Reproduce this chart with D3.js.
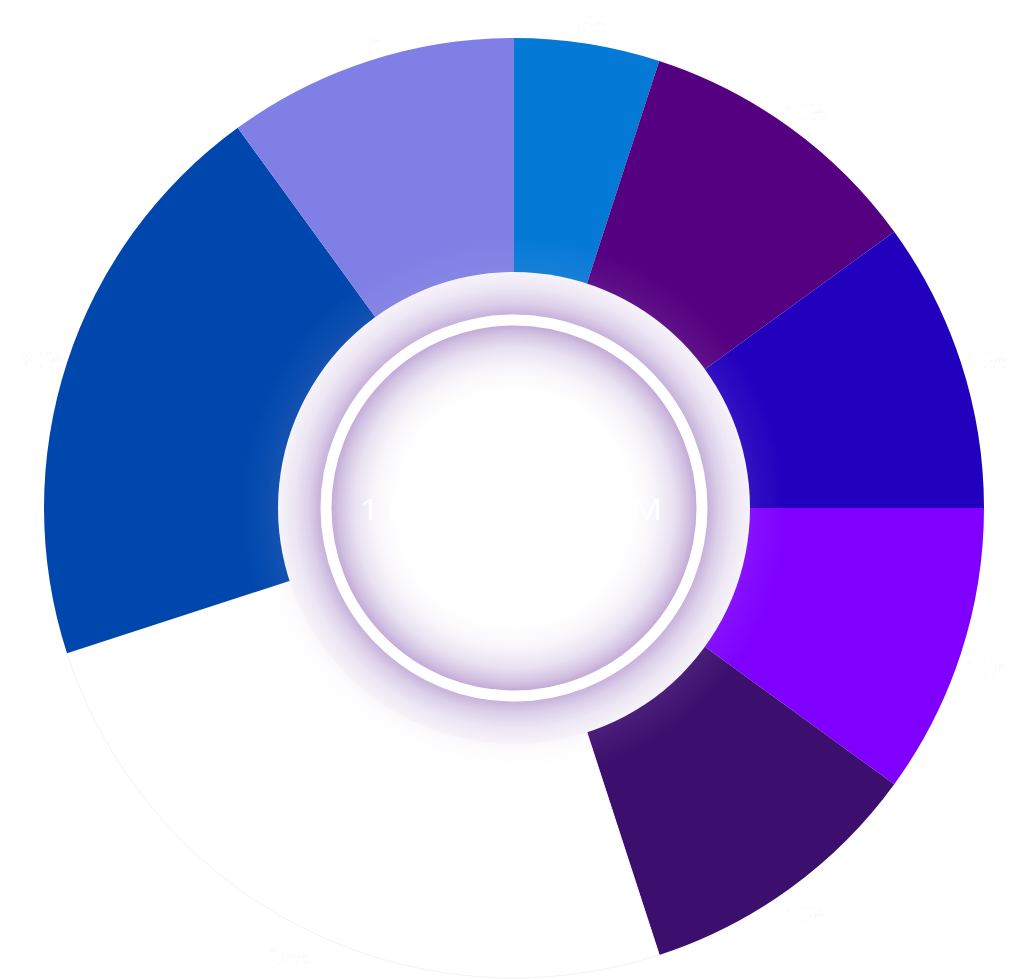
<!DOCTYPE html>
<html>
<head>
<meta charset="utf-8">
<script src="https://cdn.jsdelivr.net/npm/d3@7"></script>
<style>
  html, body { margin: 0; padding: 0; background: #ffffff; }
  svg { display: block; }
</style>
</head>
<body>
<svg id="chart" width="1024" height="979"></svg>
<script>
// ---- data ----
const labels = ["5%", "10%", "10%", "10%", "10%", "25%", "20%", "10%"];
const values = [5, 10, 10, 10, 10, 25, 20, 10];
const colors = ["#0579d6", "#540080", "#2100be", "#7f00ff", "#3c0e6e", "#ffffff", "#0047ad", "#7f7fe5"];
const centerTitle = "Total Supply";
const centerValue = "1 000 000 000 TJRM";

// ---- layout ----
const cx = 514, cy = 508;
const outerR = 470, innerR = 225;
const discR = 236;

const svg = d3.select("#chart");
const defs = svg.append("defs");

// faint glow outside the disc
const glowR = 272;
const glow = defs.append("radialGradient").attr("id", "glow")
  .attr("cx", 0).attr("cy", 0).attr("r", glowR).attr("gradientUnits", "userSpaceOnUse");
glow.append("stop").attr("offset", 234 / glowR).attr("stop-color", "#c2aed8").attr("stop-opacity", 0.11);
glow.append("stop").attr("offset", 248 / glowR).attr("stop-color", "#dcd0ea").attr("stop-opacity", 0.05);
glow.append("stop").attr("offset", 1).attr("stop-color", "#ffffff").attr("stop-opacity", 0);

// disc gradient
const disc = defs.append("radialGradient").attr("id", "disc")
  .attr("cx", 0).attr("cy", 0).attr("r", discR).attr("gradientUnits", "userSpaceOnUse");
[
  [0, "#ffffff"],
  [120 / discR, "#fefefe"],
  [140 / discR, "#f8f6fb"],
  [160 / discR, "#e9e1f1"],
  [175 / discR, "#d2c1e2"],
  [182 / discR, "#c4acd8"],
  [194 / discR, "#c8b3dc"],
  [205 / discR, "#dccfe9"],
  [220 / discR, "#ede6f4"],
  [1, "#f6f3f9"]
].forEach(([o, c]) => disc.append("stop").attr("offset", o).attr("stop-color", c));

const g = svg.append("g").attr("transform", `translate(${cx},${cy})`);

const pie = d3.pie().sort(null).value(d => d.value).startAngle(0).endAngle(2 * Math.PI);
const data = labels.map((l, i) => ({ label: l, value: values[i], color: colors[i] }));
const arcs = pie(data);

const arc = d3.arc().innerRadius(innerR).outerRadius(outerR);

g.selectAll("path.slice")
  .data(arcs)
  .join("path")
  .attr("class", "slice")
  .attr("d", arc)
  .attr("fill", d => d.data.color)
  .attr("stroke", d => d.data.color === "#ffffff" ? "#f3f3f5" : "none")
  .attr("stroke-width", 1);

// labels outside
const labelArc = d3.arc().innerRadius(496).outerRadius(496);
g.selectAll("text.lbl")
  .data(arcs)
  .join("text")
  .attr("class", "lbl")
  .attr("x", d => labelArc.centroid(d)[0])
  .attr("y", d => labelArc.centroid(d)[1] + 8)
  .attr("text-anchor", "middle")
  .attr("dominant-baseline", "middle")
  .attr("font-family", "Open Sans, sans-serif")
  .attr("font-size", 21)
  .attr("font-weight", 600)
  .attr("fill", "#ffffff")
  .attr("stroke", "rgba(0,0,0,0.035)")
  .attr("stroke-width", 1)
  .text(d => d.data.label);

// glow + disc
g.append("circle").attr("r", glowR).attr("fill", "url(#glow)");
g.append("circle").attr("r", discR).attr("fill", "url(#disc)");
// white ring
g.append("circle").attr("r", 188).attr("fill", "none").attr("stroke", "#ffffff").attr("stroke-width", 11);

// center text
g.append("text")
  .attr("x", -4).attr("y", -31)
  .attr("text-anchor", "middle")
  .attr("font-family", "Open Sans, sans-serif")
  .attr("font-size", 29)
  .attr("font-weight", 600)
  .attr("fill", "#ffffff")
  .attr("textLength", 196)
  .attr("lengthAdjust", "spacingAndGlyphs")
  .text(centerTitle);

g.append("text")
  .attr("x", -3).attr("y", 12)
  .attr("text-anchor", "middle")
  .attr("font-family", "Open Sans, sans-serif")
  .attr("font-size", 30)
  .attr("font-weight", 500)
  .attr("fill", "#ffffff")
  .attr("textLength", 302)
  .attr("lengthAdjust", "spacingAndGlyphs")
  .text(centerValue);
</script>
</body>
</html>
